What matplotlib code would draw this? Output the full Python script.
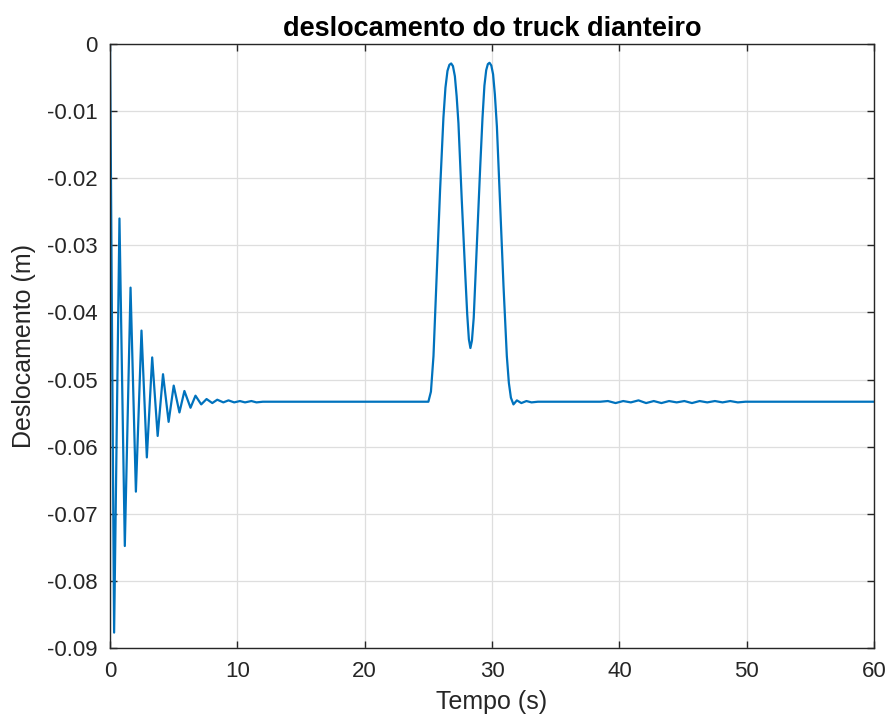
import matplotlib
matplotlib.use("Agg")
import matplotlib.pyplot as plt

# tempo (s) e deslocamento (m) do truck dianteiro
tempo = [0.0, 0.32, 0.74, 1.16, 1.61, 2.03, 2.47, 2.89, 3.31, 3.74,
         4.16, 4.60, 5.00, 5.45, 5.84, 6.32, 6.71, 7.16, 7.58, 8.03,
         8.42, 8.90, 9.30, 9.75, 10.2, 10.6, 11.1, 11.5, 12.0, 13.0,
         25.0, 25.2, 25.4, 25.66, 25.92, 26.18, 26.34, 26.5, 26.65, 26.79,
         26.93, 27.08, 27.22, 27.36, 27.62, 27.89, 28.05, 28.18, 28.3, 28.42,
         28.56, 28.8, 29.07, 29.25, 29.4, 29.54, 29.67, 29.8, 29.94, 30.08,
         30.22, 30.38, 30.64, 30.9, 31.16, 31.32, 31.48, 31.68, 31.95, 32.3,
         32.7, 33.1, 33.6, 38.5, 39.1, 39.7, 40.3, 40.9, 41.5, 42.1,
         42.7, 43.3, 43.9, 44.5, 45.1, 45.7, 46.3, 46.9, 47.5, 48.1,
         48.7, 49.3, 49.9, 50.5, 60.0]
desloc = [0.0, -0.0877, -0.0260, -0.0748, -0.0363, -0.0667, -0.0427, -0.0616, -0.0467, -0.0584,
          -0.0492, -0.0563, -0.0509, -0.0549, -0.0517, -0.0542, -0.0524, -0.0537, -0.0529, -0.0535,
          -0.0530, -0.0534, -0.0531, -0.0534, -0.0532, -0.0534, -0.0532, -0.0534, -0.0533, -0.0533,
          -0.0533, -0.0518, -0.0465, -0.0341, -0.0217, -0.0110, -0.0065, -0.0040, -0.0031, -0.0029,
          -0.0033, -0.0048, -0.0078, -0.0118, -0.0232, -0.0341, -0.0403, -0.0440, -0.0453, -0.0442,
          -0.0408, -0.0302, -0.0183, -0.0110, -0.0062, -0.0039, -0.0030, -0.0028, -0.0032, -0.0045,
          -0.0075, -0.0123, -0.0242, -0.0361, -0.0465, -0.0505, -0.0527, -0.0537, -0.0531, -0.0535,
          -0.0532, -0.0534, -0.0533, -0.0533, -0.0532, -0.0535, -0.0532, -0.0534, -0.0531, -0.0535,
          -0.0532, -0.0535, -0.0532, -0.0534, -0.0532, -0.0535, -0.0532, -0.0534, -0.0532, -0.0534,
          -0.0532, -0.0534, -0.0533, -0.0533, -0.0533]

xticks = [0, 10, 20, 30, 40, 50, 60]
yticks = [0, -0.01, -0.02, -0.03, -0.04, -0.05, -0.06, -0.07, -0.08, -0.09]
ytick_labels = ["0", "-0.01", "-0.02", "-0.03", "-0.04", "-0.05", "-0.06", "-0.07", "-0.08", "-0.09"]

plt.rcParams['font.family'] = ['Liberation Sans', 'DejaVu Sans']
cor_eixo = '#262626'

fig = plt.figure(figsize=(8.91, 7.26), dpi=100)
ax = fig.add_axes([0.1235, 0.1074, 0.8575, 0.832])

ax.plot(tempo, desloc, color='#0072BD', linewidth=1.6,
        solid_joinstyle='round', solid_capstyle='round')

ax.set_xlim(0, 60)
ax.set_ylim(-0.09, 0)
ax.set_xticks(xticks)
ax.set_yticks(yticks)
ax.set_yticklabels(ytick_labels)
ax.grid(True, color='#dedede', linewidth=0.9)
ax.set_axisbelow(True)

ax.tick_params(direction='in', length=5, width=1, colors=cor_eixo,
               labelsize=16, top=True, right=True, pad=9)
for s in ax.spines.values():
    s.set_color(cor_eixo)
    s.set_linewidth(1)

ax.set_xlabel('Tempo (s)', fontsize=18, color=cor_eixo, labelpad=6)
ax.set_ylabel('Deslocamento (m)', fontsize=18, color=cor_eixo, labelpad=8)
ax.set_title('deslocamento do truck dianteiro', fontsize=19.5, fontweight='bold',
             color='black', pad=6)

fig.savefig('out.png', dpi=100)
